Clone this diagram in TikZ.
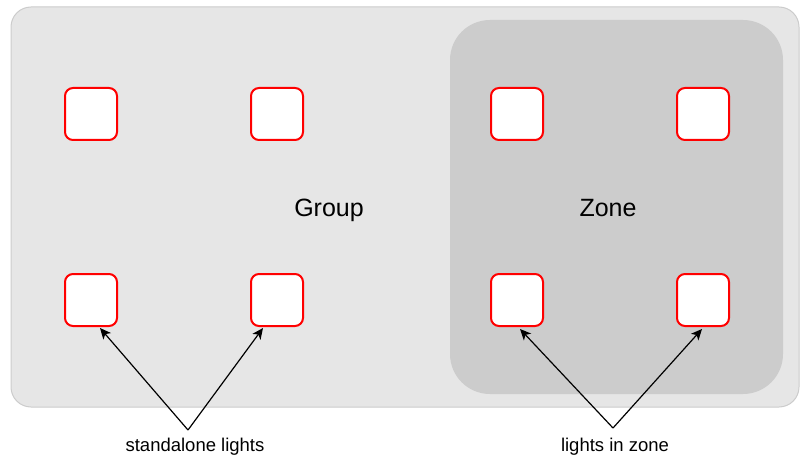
\documentclass[tikz,border=0pt]{standalone}
\usepackage{fontspec}
\setmainfont{Liberation Sans}
\usetikzlibrary{arrows.meta}
\definecolor{groupfill}{HTML}{E6E6E6}
\definecolor{groupline}{HTML}{CCCCCC}
\definecolor{zonefill}{HTML}{CCCCCC}
\definecolor{lightred}{HTML}{FF0000}
\tikzset{
  light/.style={draw=lightred, fill=white, line width=2pt, rounded corners=8pt,
    minimum width=52pt, minimum height=52pt, inner sep=0pt},
  bigtext/.style={font=\fontsize{25}{30}\selectfont, anchor=base, inner sep=0pt},
  labeltext/.style={font=\fontsize{18.5}{22}\selectfont, anchor=base, inner sep=0pt},
  pointer/.style={draw=black, line width=1.2pt, -{Stealth[length=11pt,width=10pt,inset=3pt]}}
}
\begin{document}
\begin{tikzpicture}[x=1pt,y=-1pt]
\useasboundingbox (0,0) rectangle (800,457);
% group container
\draw[fill=groupfill, draw=groupline, line width=1pt, rounded corners=20pt] (11,7) rectangle (799,407);
% zone container
\fill[zonefill, rounded corners=40pt] (450,20) rectangle (783,394);
% lights
\node[light] (l1) at (91,114) {};
\node[light] (l2) at (277,114) {};
\node[light] (l3) at (517,114) {};
\node[light] (l4) at (703,114) {};
\node[light] (l5) at (91,300) {};
\node[light] (l6) at (277,300) {};
\node[light] (l7) at (517,300) {};
\node[light] (l8) at (703,300) {};
% texts
\node[bigtext] (group) at (329,216) {Group};
\node[bigtext] (zone) at (608,216) {Zone};
\node[labeltext] (sa) at (195,451) {standalone lights};
\node[labeltext] (lz) at (615,451) {lights in zone};
% arrow origins
\coordinate (sao) at (188,430);
\coordinate (lzo) at (613,428);
\draw[pointer] (sao) -- ([xshift=9pt,yshift=-1pt]l5.south);
\draw[pointer] (sao) -- ([xshift=-14pt,yshift=-1pt]l6.south);
\draw[pointer] (lzo) -- ([xshift=3pt,yshift=-2pt]l7.south);
\draw[pointer] (lzo) -- ([xshift=-1pt,yshift=-2pt]l8.south);
\end{tikzpicture}
\end{document}
